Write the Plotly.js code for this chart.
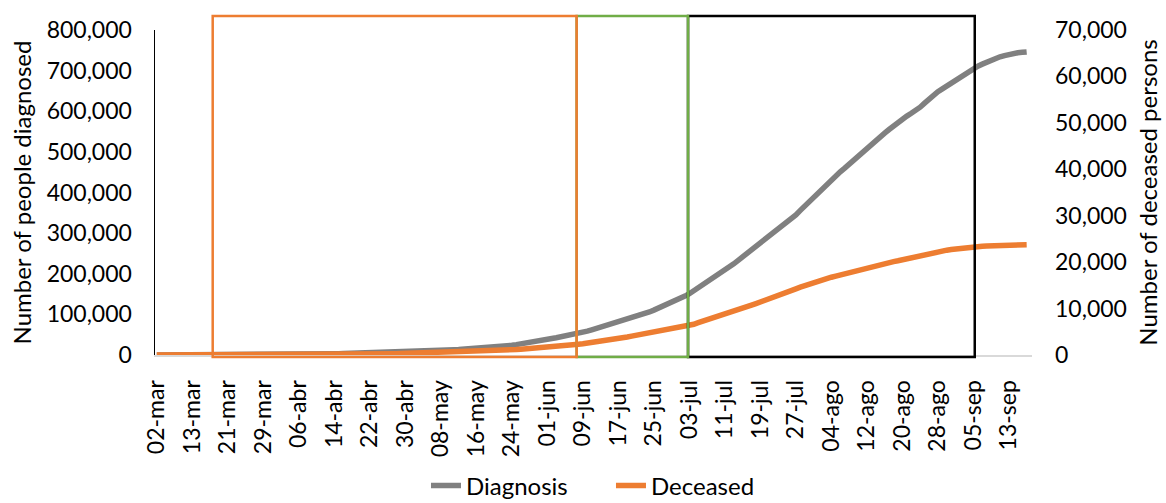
<!DOCTYPE html>
<html>
<head>
<meta charset="utf-8">
<script src="https://cdn.plot.ly/plotly-3.0.1.min.js"></script>
<style>html,body{margin:0;padding:0;background:#fff;}#chart{width:1166px;height:503px;}</style>
</head>
<body>
<div id="chart"></div>
<script>
// Category labels: first day, then daily from 06-mar to 17-sep
const monthNames = ['mar','abr','may','jun','jul','ago','sep'];
const monthDays = [31,30,31,30,31,31,30];
const categories = ['02-mar'];
(function(){
  let m = 0, d = 6;
  while (!(m === 6 && d > 17)) {
    categories.push((d < 10 ? '0' + d : '' + d) + '-' + monthNames[m]);
    d++;
    if (d > monthDays[m]) { d = 1; m++; }
  }
})();

const tickLabels = ['02-mar','13-mar','21-mar','29-mar','06-abr','14-abr','22-abr','30-abr',
  '08-may','16-may','24-may','01-jun','09-jun','17-jun','25-jun','03-jul','11-jul','19-jul',
  '27-jul','04-ago','12-ago','20-ago','28-ago','05-sep','13-sep'];

const diagnosis = [
  0,1,1,1,3,9,9,13,16,
  24,45,54,65,93,102,128,158,196,231,306,378,
  470,540,610,700,800,910,1050,1160,1270,1500,
  1620,1790,1930,2110,2260,2380,2560,2710,2840,3000,
  3200,3450,3700,3900,4150,4400,4650,4900,5200,5500,
  5800,6150,6500,6800,7150,7500,
  7900,8300,8700,9100,9500,9950,10450,11000,
  11500,12100,12700,13300,13900,14500,15200,16000,
  16800,17700,18600,19500,20500,21500,22700,24000,
  25500,27000,28600,30300,32000,34000,36000,38500,
  40500,42500,44500,46500,48500,50700,53000,
  55800,58800,62000,65200,68500,72000,76000,
  79500,83000,86500,90000,93200,96000,99000,102000,
  106000,110500,115000,119500,124000,128000,
  133000,139000,145000,151000,
  158000,165000,172000,179000,186000,
  193000,200000,208000,216000,
  224500,233000,241500,250000,258500,266500,275000,
  283500,292000,300000,308500,317000,326000,335000,
  345000,356000,367000,378000,389000,400000,
  411000,421000,431000,441000,451000,460000,
  470000,479000,488000,
  498000,508000,518000,528000,537000,
  546000,555000,564000,572000,
  580000,588000,595000,602000,610000,
  620000,630000,640000,648000,
  655000,662000,669000,676000,683000,
  691000,699000,706000,
  711000,716000,721000,726000,
  730000,734000,737000,
  740000,742000,744000,745000,746000
];

const deceased = [
  0,0,0,0,0,0,0,0,0,
  0,0,0,0,0,0,0,0,0,0,1,2,
  3,4,5,6,8,10,12,14,16,20,
  25,30,35,40,48,55,62,70,80,90,
  100,110,120,130,145,160,175,190,205,220,
  235,250,265,285,305,
  330,355,380,405,430,455,480,510,540,
  570,600,630,660,690,720,760,800,
  840,880,920,960,1000,1050,1100,1150,
  1200,1260,1320,1380,1440,1500,1550,1600,
  1690,1780,1870,1960,2060,2170,2300,
  2420,2540,2670,2800,2930,3060,3200,
  3370,3540,3710,3880,4060,4240,4420,4600,
  4760,4920,5080,5240,5400,5560,5730,5900,6080,6300,
  6620,6960,7300,7650,8000,
  8280,8560,8830,9100,
  9430,9760,10090,10420,10750,11080,11400,
  11750,12100,12450,12800,13150,13500,
  13870,14240,14600,14950,15300,15650,16000,
  16250,16500,16750,17000,17250,17500,
  17780,18060,18340,18620,18900,19150,19400,
  19580,19760,19940,20120,20300,
  20530,20760,20990,21220,21450,21680,21900,22100,22300,
  22440,22580,22720,22860,23000,23100,23200,23300,
  23370,23440,23500,23550,23600,23650,
  23680,23700,23720,23730,23740,23750
];

// Period boxes (category index positions)
const periodStart = [12.6, 94.6, 119.7];
const periodEnd = [94.6, 119.7, 184.3];
const periodColors = ['#ED7D31', '#70AD47', '#000000'];

const FONT = 'Lato, "Open Sans", sans-serif';

const traces = [
  {x: categories.slice(0, diagnosis.length), y: diagnosis, type: 'scatter', mode: 'lines', name: 'Diagnosis',
   line: {color: '#808080', width: 5.5}, yaxis: 'y'},
  {x: categories.slice(0, deceased.length), y: deceased, type: 'scatter', mode: 'lines', name: 'Deceased',
   line: {color: '#ED7D31', width: 5.5}, yaxis: 'y2'}
];

const shapes = [];
[2, 1, 0].forEach(function(i){
  shapes.push({type: 'rect', xref: 'x', yref: 'paper', x0: periodStart[i], x1: periodEnd[i],
    y0: -0.006, y1: 1.043, line: {color: periodColors[i], width: 2.5}, fillcolor: 'rgba(0,0,0,0)', layer: 'above'});
});

const layout = {
  width: 1166, height: 503,
  margin: {l: 155, r: 134, t: 30, b: 148, autoexpand: false},
  paper_bgcolor: '#ffffff', plot_bgcolor: '#ffffff',
  font: {family: FONT, size: 22, color: '#000000'},
  showlegend: true,
  legend: {orientation: 'h', xref: 'container', yref: 'container', x: 0.524, xanchor: 'center', y: 0.0785, yanchor: 'top',
    font: {family: FONT, size: 24, color: '#000'}, traceorder: 'normal', entrywidth: 140, entrywidthmode: 'pixels',
    tracegroupgap: 0},
  xaxis: {type: 'category', range: [-0.4, 197.2], tickmode: 'array', tickvals: tickLabels, ticktext: tickLabels,
    tickangle: -90, showgrid: false, zeroline: false, showline: true, linecolor: '#D9D9D9', linewidth: 2,
    automargin: false, ticks: '', ticklabelstandoff: 14, tickfont: {family: FONT, size: 23, color: '#000'}},
  yaxis: {range: [0, 800000], dtick: 100000, tickformat: ',d', showgrid: false, zeroline: false,
    showline: true, linecolor: '#000000', linewidth: 1.5, ticks: '', ticklabelstandoff: 17, automargin: false,
    tickfont: {family: FONT, size: 23, color: '#000'},
    title: {text: 'Number of people diagnosed', font: {family: FONT, size: 24, color: '#000'}, standoff: 8}},
  yaxis2: {range: [0, 70000], dtick: 10000, tickformat: ',d', overlaying: 'y', side: 'right',
    showgrid: false, zeroline: false, showline: false, ticks: '', ticklabelstandoff: 22, automargin: false,
    tickfont: {family: FONT, size: 23, color: '#000'},
    title: {text: 'Number of deceased persons', font: {family: FONT, size: 24, color: '#000'}, standoff: 14}},
  shapes: shapes
};

Plotly.newPlot('chart', traces, layout, {displayModeBar: false, staticPlot: true});
</script>
</body>
</html>
